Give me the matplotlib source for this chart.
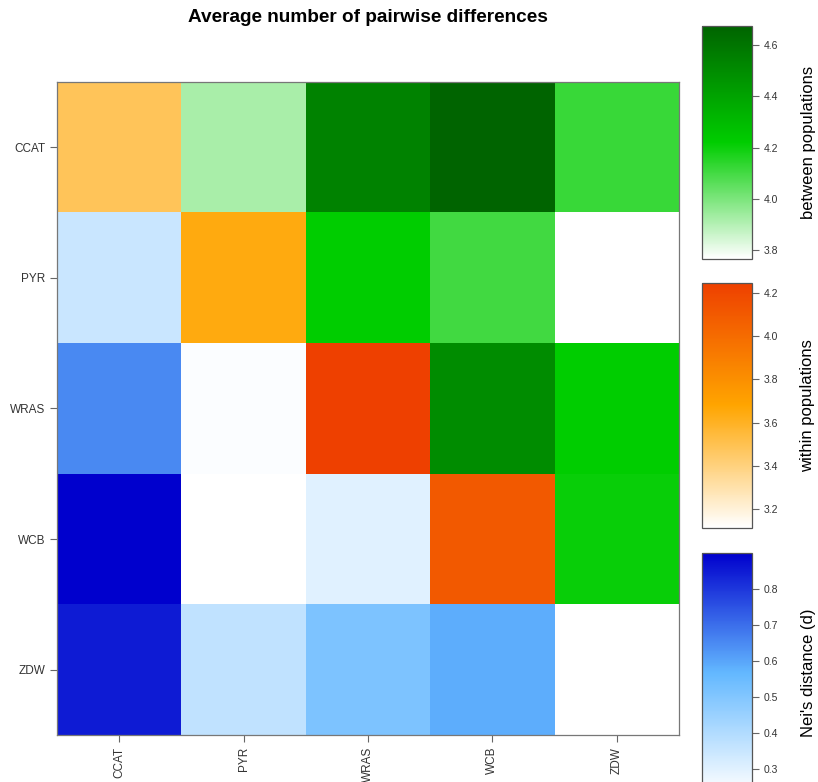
import matplotlib
matplotlib.use('Agg')
import matplotlib.pyplot as plt
import numpy as np
from matplotlib.colors import LinearSegmentedColormap, Normalize
from matplotlib.cm import ScalarMappable

plt.rcParams['font.family'] = ['Liberation Sans', 'DejaVu Sans']

pops = ['CCAT', 'PYR', 'WRAS', 'WCB', 'ZDW']

# diagonal: average pairwise differences within populations
within = [3.48, 3.645, 4.246, 4.10, 3.112]

# upper triangle: between populations (row by row)
between = [
    [3.92, 4.54, 4.675, 4.12],   # CCAT vs PYR, WRAS, WCB, ZDW
    [4.22, 4.105, 3.765],        # PYR vs WRAS, WCB, ZDW
    [4.50, 4.22],                # WRAS vs WCB, ZDW
    [4.205],                     # WCB vs ZDW
]

# lower triangle: Nei's distance (row by row)
nei = [
    [0.35],                      # PYR vs CCAT
    [0.65, 0.243],               # WRAS vs CCAT, PYR
    [0.90, 0.233, 0.30],         # WCB vs CCAT, PYR, WRAS
    [0.85, 0.366, 0.51, 0.585],  # ZDW vs CCAT, PYR, WRAS, WCB
]

n = len(pops)
up = np.full((n, n), np.nan)
lo = np.full((n, n), np.nan)
dg = np.full((n, n), np.nan)
for i, row in enumerate(between):
    for k, v in enumerate(row):
        up[i, i + 1 + k] = v
for i, row in enumerate(nei):
    for k, v in enumerate(row):
        lo[i + 1, k] = v
for i, v in enumerate(within):
    dg[i, i] = v

cm_b = LinearSegmentedColormap.from_list('b', ['white', '#00CD00', '#006400'])
cm_w = LinearSegmentedColormap.from_list('w', ['white', '#FFA500', '#EE4000'])
cm_n = LinearSegmentedColormap.from_list('n', ['white', '#63B8FF', '#0000CD'])

nb = Normalize(np.nanmin(up), np.nanmax(up))
nw = Normalize(np.nanmin(dg), np.nanmax(dg))
nn = Normalize(np.nanmin(lo), np.nanmax(lo))

W, H = 818, 782
fig = plt.figure(figsize=(W / 100, H / 100), dpi=100)

ax = fig.add_axes([57 / W, 1 - 735 / H, 622 / W, 653 / H])
ext = (-0.5, n - 0.5, n - 0.5, -0.5)
for data, cm, nm in [(up, cm_b, nb), (dg, cm_w, nw), (lo, cm_n, nn)]:
    ax.imshow(np.ma.masked_invalid(data), cmap=cm, norm=nm, aspect='auto',
              extent=ext, interpolation='nearest')
ax.set_xlim(-0.5, n - 0.5)
ax.set_ylim(n - 0.5, -0.5)
ax.set_xticks(range(n))
ax.set_xticklabels(pops, rotation=90, fontsize=8.5, color='#333333')
ax.set_yticks(range(n))
ax.set_yticklabels(pops, fontsize=8.5, color='#333333')
ax.tick_params(length=5, color='#666666', width=0.8)
for s in ax.spines.values():
    s.set_color('#777777')
    s.set_linewidth(0.9)

fig.text(368 / W, 1 - 18 / H, 'Average number of pairwise differences',
         ha='center', va='center', fontsize=13.7, fontweight='bold')


def cbar(rect, cm, nm, ticks, label):
    cax = fig.add_axes(rect)
    cb = fig.colorbar(ScalarMappable(norm=nm, cmap=cm), cax=cax)
    cb.set_ticks(ticks)
    cb.ax.set_yticklabels(['%.1f' % t for t in ticks], fontsize=7.5, color='#333333')
    cb.ax.tick_params(length=5, color='#666666', width=0.8)
    cb.outline.set_edgecolor('#555555')
    cb.outline.set_linewidth(0.9)
    cb.set_label(label, fontsize=12, labelpad=16)
    return cb


cx, cw = 702 / W, 50 / W
cbar([cx, 1 - 259 / H, cw, 233 / H], cm_b, nb, [3.8, 4.0, 4.2, 4.4, 4.6], 'between populations')
cbar([cx, 1 - 528 / H, cw, 245 / H], cm_w, nw, [3.2, 3.4, 3.6, 3.8, 4.0, 4.2], 'within populations')
cbar([cx, 1 - 793 / H, cw, 240 / H], cm_n, nn, [0.3, 0.4, 0.5, 0.6, 0.7, 0.8], "Nei's distance (d)")

fig.savefig('out.png', dpi=100)
